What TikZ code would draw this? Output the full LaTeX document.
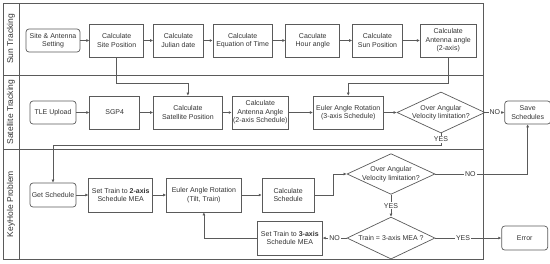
\documentclass[tikz,border=0pt]{standalone}
\usepackage{fontspec}
\setmainfont{Liberation Sans}
\usepackage{tikz}
\usetikzlibrary{positioning,arrows.meta,shapes.geometric}
\definecolor{FlowLine}{HTML}{5A5A5A}
\definecolor{FlowText}{HTML}{333333}

\begin{document}
\begin{tikzpicture}[
  x=1pt,y=-1pt,
  font=\fontsize{7}{8.6}\selectfont,
  every node/.style={text=FlowText},
  proc/.style={draw=FlowLine,line width=0.7pt,align=center,minimum height=33pt,inner sep=1pt},
  term/.style={draw=FlowLine,line width=0.7pt,rounded corners=3pt,align=center,minimum height=23pt,minimum width=46pt,inner sep=1pt},
  decide/.style={draw=FlowLine,line width=0.7pt,diamond,align=center,inner xsep=-14pt,inner ysep=-2pt,minimum width=88pt,minimum height=41pt},
  lane/.style={draw=FlowLine,line width=0.7pt},
  lanetext/.style={rotate=90,font=\fontsize{8.5}{10}\selectfont},
  tag/.style={fill=white,inner sep=1pt},
  arrow/.style={-{Latex[length=3pt,width=3pt]},draw=FlowLine,line width=0.6pt}
]
\useasboundingbox (0,0) rectangle (550,263);
% swim lanes
\draw[lane] (3,3) rectangle (483,259);
\draw[lane] (19,3) -- (19,259);
\draw[lane] (3,75) -- (483,75);
\draw[lane] (3,149) -- (483,149);
\node[lanetext] (sunlane) at (11,39) {Sun Tracking};
\node[lanetext] (satlane) at (11,112) {Satellite Tracking};
\node[lanetext] (keylane) at (11,204) {KeyHole Problem};
% sun tracking
\node[term,minimum width=54pt] (siteset) at (53,40.5) {Site \& Antenna\\Setting};
\node[proc,minimum width=54pt,right=9pt of siteset] (sitepos) {Calculate\\Site Position};
\node[proc,minimum width=50pt,right=9pt of sitepos] (julian) {Calculate\\Julian date};
\node[proc,minimum width=59pt,right=9pt of julian] (eqtime) {Calculate\\Equation of Time};
\node[proc,minimum width=54pt,right=13pt of eqtime] (hourang) {Caculate\\Hour angle};
\node[proc,minimum width=50pt,right=12pt of hourang] (sunpos) {Calculate\\Sun Position};
\node[proc,minimum width=56pt,right=17pt of sunpos] (antsun) {Calculate\\Antenna angle\\(2-axis)};
% satellite tracking
\node[term] (tle) at (53,112.5) {TLE Upload};
\node[proc,minimum width=50pt,right=13pt of tle] (sgp4) {SGP4};
\node[proc,minimum width=69pt,right=13pt of sgp4] (satpos) {Calculate\\Satellite Position};
\node[proc,minimum width=56pt,right=9pt of satpos] (antsat) {Calculate\\Antenna Angle\\(2-axis Schedule)};
\node[proc,minimum width=70pt,right=24pt of antsat] (euler3) {Euler Angle Rotation\\(3-axis Schedule)};
\node[decide,right=13pt of euler3] (overvel) {Over Angular\\Velocity limitation?};
\node[term,right=19pt of overvel] (save) {Save\\Schedules};
% keyhole problem
\node[term,minimum height=24pt] (getsch) at (53,195) {Get Schedule};
\node[proc,minimum width=64pt,minimum height=34pt,right=12pt of getsch] (train2) {Set Train to \textbf{2-axis}\\Schedule MEA};
\node[proc,minimum width=75pt,minimum height=34pt,right=13pt of train2] (eulertt) {Euler Angle Rotation\\(Tilt, Train)};
\node[proc,minimum width=52pt,minimum height=34pt,right=20pt of eulertt] (calcsch) {Calculate\\Schedule};
\node[decide,minimum height=39pt] (overvel2) at (391,174) {Over Angular\\Velocity limitation?};
\node[decide,minimum height=42pt,below=22pt of overvel2] (axischk) {Train = 3-axis MEA ?};
\node[proc,minimum width=65pt,minimum height=34pt,left=24pt of axischk] (train3) {Set Train to \textbf{3-axis}\\Schedule MEA};
\node[term,minimum height=24pt,right=66pt of axischk] (errnode) {Error};
% connectors
\draw[arrow] (siteset) -- (sitepos);
\draw[arrow] (sitepos) -- (julian);
\draw[arrow] (julian) -- (eqtime);
\draw[arrow] (eqtime) -- (hourang);
\draw[arrow] (hourang) -- (sunpos);
\draw[arrow] (sunpos) -- (antsun);
\draw[arrow] (sitepos.south) -- ++(0,26) -| (satpos.north);
\draw[arrow] (antsun.south) -- ++(0,26) -| (euler3.north);
\draw[arrow] (tle) -- (sgp4);
\draw[arrow] (sgp4) -- (satpos);
\draw[arrow] (satpos) -- (antsat);
\draw[arrow] (antsat) -- (euler3);
\draw[arrow] (euler3) -- (overvel);
\draw[arrow] (overvel) -- node[tag]{NO} (save);
\draw[arrow] (overvel.south) -- node[tag]{YES} ++(0,12) -| (getsch.north);
\draw[arrow] (getsch) -- (train2);
\draw[arrow] (train2) -- (eulertt);
\draw[arrow] (eulertt) -- (calcsch);
\draw[arrow] (calcsch.east) -- ++(19,0) |- (overvel2.west);
\draw[arrow] (overvel2.east) -| node[tag,pos=0.19]{NO} (save.south);
\draw[arrow] (overvel2) -- node[tag]{YES} (axischk);
\draw[arrow] (axischk) -- node[tag]{NO} (train3);
\draw[arrow] (axischk) -- node[tag,pos=0.42]{YES} (errnode);
\draw[arrow] (train3.west) -| (eulertt.south);
\end{tikzpicture}
\end{document}
